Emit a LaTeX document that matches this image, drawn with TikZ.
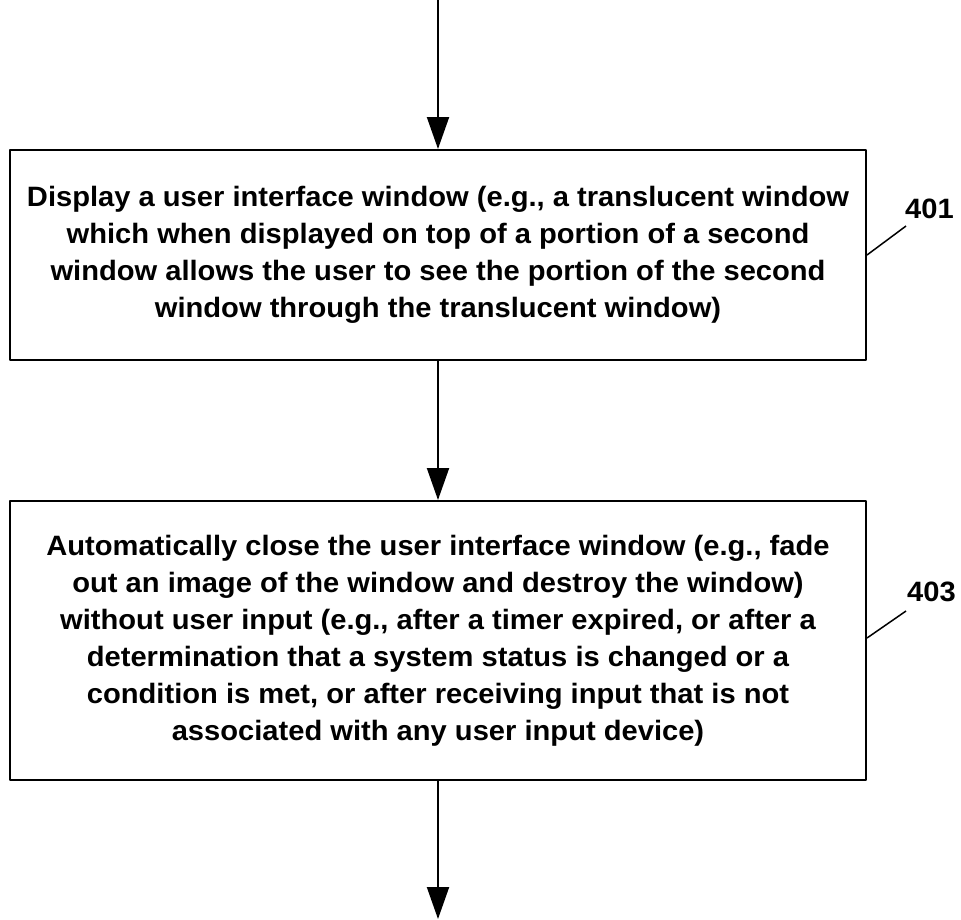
\documentclass[tikz,border=0pt]{standalone}
\usepackage{fontspec}
\setmainfont[FakeStretch=1.04]{Liberation Sans}
\usetikzlibrary{arrows.meta,positioning}
\begin{document}
\begin{tikzpicture}[x=1pt,y=-1pt,>={Triangle[length=32pt,width=22pt]},line join=round,
	font=\bfseries\fontsize{28}{37}\selectfont,
	stepbox/.style={draw,line width=2pt,minimum width=856pt,align=center,inner sep=0pt},
	flow/.style={->,line width=2pt},
	refnum/.style={font=\bfseries\fontsize{28}{30}\selectfont,anchor=west,inner sep=0pt}]
			\useasboundingbox (0,0) rectangle (961,919);
			\coordinate (top) at (438,0);
			\coordinate (bot) at (438,919);
			\node[stepbox,minimum height=210pt] (display) at (438,255)
			{Display a user interface window (e.g., a translucent window\\
			which when displayed on top of a portion of a second\\
			window allows the user to see the portion of the second\\
			window through the translucent window)};
			\node[stepbox,minimum height=279pt] (close) at (438,640.5)
			{Automatically close the user interface window (e.g., fade\\
			out an image of the window and destroy the window)\\
			without user input (e.g., after a timer expired, or after a\\
			determination that a system status is changed or a\\
			condition is met, or after receiving input that is not\\
			associated with any user input device)};
			\draw[flow] (top)--(display);
			\draw[flow] (display)--(close);
			\draw[flow] (close)--(bot);
			% reference numbers
			\node[refnum] (n401) at (905,209) {401};
			\node[refnum] (n403) at (907,592) {403};
			\draw[line width=1.5pt] (display.east |- 0,255)--(906,226);
			\draw[line width=1.5pt] (close.east |- 0,638)--(906,611);
	\end{tikzpicture}
\end{document}
